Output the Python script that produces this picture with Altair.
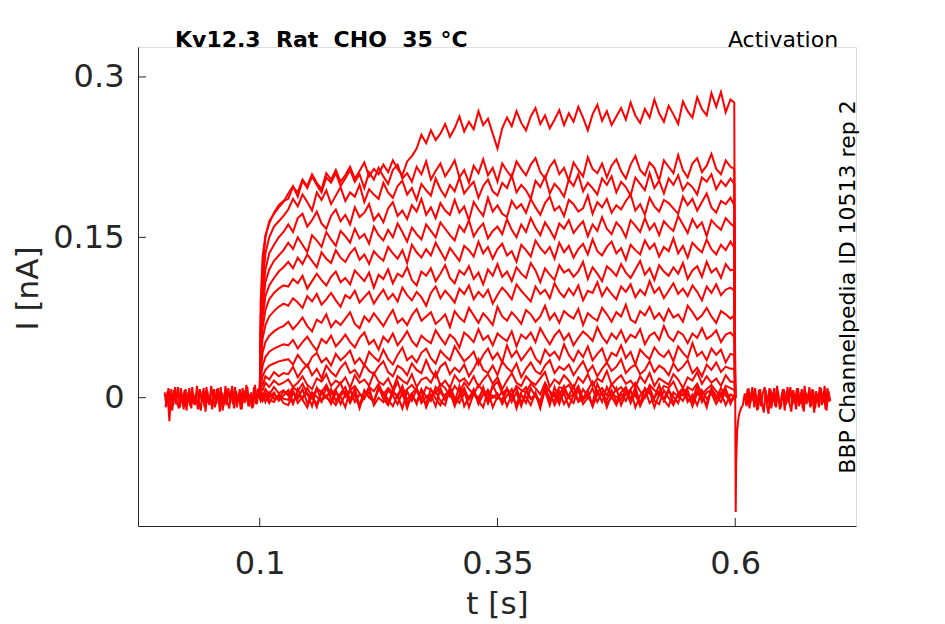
import altair as alt
import pandas as pd

# ---------------- data (currents in pA, times in ms) ----------------
# sampling times of the voltage-step sweeps
t_step_ms = [100, 101, 103, 106, 110, 115, 120, 125] + list(range(130, 600, 5)) + [599, 600]

tr01 = [0, 90, 132, 152, 163, 173, 180, 184,
        186, 197, 192, 204, 198, 209, 201, 195, 210, 204,
        213, 202, 208, 216, 205, 212, 220, 207, 214, 209,
        218, 211, 222, 214, 208, 221, 226, 233, 246, 238,
        250, 241, 247, 256, 244, 252, 263, 249, 258, 251,
        268, 255, 261, 247, 233, 252, 262, 254, 268, 257,
        250, 263, 271, 256, 264, 252, 260, 269, 255, 266,
        258, 272, 262, 250, 265, 274, 259, 268, 255, 263,
        271, 260, 276, 264, 257, 270, 262, 279, 266, 258,
        273, 265, 256, 277, 268, 262, 281, 270, 264, 285,
        272, 286, 267, 279,
        276, 0]
tr02 = [0, 75, 120, 150, 165, 172, 178, 183,
        191, 198, 188, 203, 196, 207, 199, 192, 206, 201,
        210, 198, 205, 213, 202, 209, 196, 211, 204, 215,
        207, 200, 213, 218, 205, 210, 202, 216, 209, 221,
        204, 212, 219, 207, 214, 222, 206, 213, 201, 217,
        210, 223, 208, 215, 202, 219, 212, 206, 221, 214,
        208, 218, 224, 211, 205, 216, 222, 209, 215, 203,
        220, 213, 207, 225, 214, 210, 219, 206, 217, 223,
        212, 205, 218, 226, 213, 208, 220, 215, 203, 222,
        216, 210, 227, 213, 206, 219, 224, 211, 217, 228,
        214, 209, 222, 216,
        214, 0]
tr03 = [0, 65, 105, 135, 150, 160, 165, 170,
        176, 186, 179, 190, 183, 175, 192, 185, 194, 181,
        189, 197, 184, 192, 188, 199, 183, 195, 190, 186,
        201, 192, 187, 198, 203, 190, 196, 185, 200, 194,
        189, 205, 195, 188, 199, 193, 206, 191, 197, 202,
        187, 198, 204, 193, 189, 201, 196, 208, 192, 199,
        194, 186, 203, 197, 207, 191, 200, 195, 188, 204,
        198, 209, 193, 201, 196, 190, 205, 199, 207, 192,
        202, 197, 189, 206, 200, 194, 210, 196, 203, 191,
        205, 199, 208, 194, 201, 197, 190, 206, 202, 209,
        195, 203, 198, 205,
        200, 0]
tr04 = [0, 60, 95, 120, 135, 143, 150, 155,
        162, 155, 168, 172, 160, 166, 174, 163, 158, 170,
        176, 165, 171, 162, 178, 169, 173, 181, 166, 172,
        164, 177, 183, 170, 175, 167, 180, 174, 186, 171,
        178, 168, 182, 175, 171, 185, 173, 179, 166, 183,
        176, 170, 187, 174, 180, 172, 169, 184, 177, 181,
        173, 186, 178, 171, 182, 188, 175, 179, 170, 185,
        181, 174, 177, 189, 172, 183, 178, 186, 173, 180,
        176, 184, 190, 175, 181, 171, 187, 179, 174, 185,
        182, 177, 172, 188, 180, 186, 175, 183, 191, 178,
        173, 184, 181, 187,
        180, 0]
tr05 = [0, 52, 85, 108, 120, 128, 133, 138,
        145, 139, 150, 143, 136, 152, 147, 141, 155, 148,
        142, 156, 151, 145, 158, 149, 153, 144, 160, 152,
        147, 157, 150, 163, 155, 146, 159, 153, 148, 162,
        156, 150, 164, 158, 152, 147, 161, 155, 166, 151,
        158, 163, 149, 156, 160, 153, 167, 157, 150, 162,
        155, 168, 159, 152, 164, 157, 149, 163, 158, 166,
        154, 160, 165, 151, 162, 156, 169, 158, 153, 164,
        159, 150, 166, 161, 155, 168, 157, 163, 152, 165,
        160, 156, 170, 162, 154, 167, 159, 164, 151, 166,
        161, 157, 168, 163,
        160, 0]
tr06 = [0, 45, 75, 95, 105, 112, 118, 122,
        127, 121, 131, 125, 134, 128, 122, 136, 130, 126,
        138, 131, 127, 135, 140, 129, 134, 125, 137, 132,
        128, 141, 135, 130, 138, 126, 143, 136, 131, 139,
        133, 145, 137, 129, 140, 134, 128, 142, 138, 132,
        146, 135, 141, 130, 139, 144, 133, 137, 127, 143,
        138, 132, 147, 140, 135, 141, 130, 145, 136, 142,
        131, 139, 144, 134, 148, 137, 133, 141, 146, 135,
        140, 129, 143, 138, 134, 147, 139, 144, 132, 141,
        137, 149, 135, 142, 131, 145, 140, 136, 148, 139,
        134, 143, 138, 146,
        140, 0]
tr07 = [0, 40, 65, 82, 92, 98, 102, 105,
        104, 111, 107, 114, 102, 109, 116, 110, 105, 113,
        118, 108, 112, 106, 119, 114, 109, 117, 103, 115,
        111, 120, 107, 116, 113, 122, 110, 105, 118, 114,
        121, 109, 116, 124, 112, 107, 119, 115, 123, 111,
        117, 106, 120, 114, 125, 113, 118, 109, 122, 116,
        112, 126, 119, 108, 121, 115, 110, 124, 117, 120,
        113, 118, 127, 111, 122, 116, 109, 123, 119, 114,
        125, 117, 112, 120, 128, 115, 121, 110, 124, 118,
        114, 122, 116, 126, 111, 119, 123, 113, 127, 117,
        121, 112, 125, 119,
        120, 0]
tr08 = [0, 33, 55, 68, 76, 81, 85, 88,
        86, 93, 89, 84, 95, 90, 97, 87, 92, 98,
        91, 85, 96, 93, 100, 89, 94, 99, 88, 95,
        101, 92, 97, 90, 103, 96, 91, 99, 94, 86,
        98, 104, 93, 100, 95, 89, 102, 97, 105, 92,
        99, 94, 101, 88, 96, 103, 98, 92, 106, 100,
        95, 90, 104, 97, 101, 93, 107, 99, 94, 102,
        96, 105, 91, 100, 98, 108, 95, 103, 97, 92,
        104, 99, 106, 94, 101, 96, 109, 98, 103, 93,
        100, 107, 97, 102, 95, 105, 99, 91, 104, 98,
        106, 96, 101, 103,
        100, 0]
tr09 = [0, 25, 42, 52, 58, 62, 65, 67,
        71, 64, 69, 75, 67, 62, 73, 70, 78, 66,
        72, 68, 74, 80, 69, 65, 76, 71, 79, 73,
        67, 75, 82, 70, 74, 68, 77, 83, 72, 76,
        80, 69, 73, 78, 66, 81, 75, 71, 84, 77,
        70, 79, 74, 68, 85, 76, 72, 80, 75, 69,
        82, 78, 71, 76, 86, 73, 79, 70, 81, 77,
        74, 83, 68, 79, 75, 72, 84, 78, 71, 80,
        76, 87, 73, 70, 81, 77, 85, 74, 79, 72,
        83, 75, 78, 71, 86, 80, 73, 77, 84, 76,
        70, 81, 78, 74,
        77, 0]
tr10 = [0, 18, 30, 38, 43, 46, 48, 50,
        49, 54, 46, 52, 57, 50, 44, 55, 51, 58,
        48, 53, 59, 52, 47, 56, 61, 50, 54, 45,
        57, 52, 60, 49, 55, 62, 53, 48, 58, 54,
        51, 63, 56, 50, 59, 55, 47, 61, 57, 52,
        64, 54, 58, 49, 60, 56, 53, 62, 48, 59,
        55, 61, 52, 65, 57, 50, 58, 63, 54, 60,
        49, 56, 62, 58, 53, 66, 57, 51, 60, 55,
        63, 52, 59, 56, 64, 50, 58, 61, 54, 67,
        57, 53, 62, 59, 51, 60, 56, 65, 55, 58,
        63, 52, 59, 61,
        57, 0]
tr11 = [0, 12, 20, 26, 30, 32, 34, 35,
        36, 31, 40, 34, 29, 38, 42, 33, 37, 30,
        41, 35, 39, 44, 32, 37, 30, 43, 38, 34,
        45, 36, 31, 40, 47, 35, 39, 33, 42, 46,
        37, 32, 44, 39, 35, 48, 41, 34, 38, 43,
        31, 40, 46, 36, 42, 33, 49, 38, 44, 35,
        41, 47, 37, 32, 45, 39, 43, 36, 50, 40,
        34, 44, 38, 48, 35, 41, 46, 33, 42, 39,
        49, 37, 43, 31, 45, 40, 36, 47, 41, 38,
        44, 34, 48, 42, 37, 51, 39, 43, 35, 46,
        40, 45, 33, 41,
        40, 0]
tr12 = [0, 10, 12, 20, 17, 24, 20, 23,
        22, 29, 19, 26, 31, 21, 27, 18, 30, 24,
        20, 28, 33, 23, 26, 19, 31, 25, 22, 29,
        34, 24, 20, 30, 27, 21, 32, 26, 23, 35,
        25, 19, 29, 33, 22, 28, 24, 31, 20, 27,
        36, 26, 23, 30, 21, 34, 28, 24, 32, 19,
        27, 33, 25, 22, 30, 35, 23, 29, 26, 31,
        21, 28, 34, 24, 30, 20, 27, 33, 25, 29,
        36, 23, 28, 31, 22, 26, 34, 24, 30, 27,
        21, 32, 25, 29, 35, 23, 28, 20, 31, 26,
        33, 24, 29, 27,
        27, 0]
tr13 = [0, 9, 7, 14, 10, 16, 12, 14,
        17, 10, 14, 20, 12, 8, 18, 15, 22, 11,
        16, 13, 19, 9, 21, 14, 17, 11, 23, 15,
        12, 18, 8, 20, 16, 13, 22, 10, 17, 19,
        14, 24, 11, 16, 9, 21, 15, 18, 12, 20,
        10, 17, 22, 13, 19, 8, 16, 23, 14, 11,
        20, 15, 12, 18, 24, 10, 17, 13, 21, 16,
        9, 19, 14, 22, 11, 18, 15, 25, 12, 17,
        21, 13, 16, 10, 20, 14, 23, 11, 18, 15,
        12, 22, 17, 9, 19, 16, 24, 13, 20, 14,
        18, 11, 21, 15,
        15, 0]
tr14 = [0, 5, 1, 8, 3, 10, 4, 7,
        2, 10, 6, 13, 4, -1, 9, 5, 12, 3,
        8, 14, 1, 7, 11, 4, 0, 10, 6, 13,
        3, 9, 5, 15, 2, 8, 12, 6, -1, 10,
        7, 4, 13, 9, 1, 11, 5, 14, 8, 3,
        12, 6, 0, 10, 15, 4, 8, 2, 11, 7,
        5, 13, 9, 3, 14, 6, 1, 10, 8, 12,
        4, 11, -1, 7, 15, 5, 9, 2, 13, 6,
        10, 3, 8, 14, 6, 0, 12, 7, 4, 11,
        9, 15, 5, 2, 10, 7, 13, 3, 8, 12,
        6, 1, 11, 9,
        7, 0]
tr15 = [0, 4, -2, 3, 0, 5, -3, 2,
        7, -4, 3, -1, 9, 1, -6, 5, 0, 8,
        -3, 4, 10, -2, 2, -7, 6, 1, -4, 9,
        3, -5, 7, 0, 11, -2, 4, -6, 8, 1,
        -3, 10, 5, -1, 6, -8, 3, 9, -2, 4,
        0, 7, -5, 12, 2, -3, 8, 1, -6, 5,
        10, -1, 3, -4, 9, 6, -7, 2, 11, 0,
        4, -3, 8, 1, -5, 13, 3, -2, 7, -4,
        5, 10, -1, 2, -6, 9, 4, 0, 12, -3,
        6, 1, -5, 8, 3, -2, 11, -4, 5, 7,
        -1, 9, 2, -3,
        2, 0]
tr16 = [0, -2, 3, -4, 5, -1, 2, -5,
        -7, 4, -1, 8, -5, 2, -9, 6, 0, -3,
        7, -6, 3, -2, 9, -8, 1, 5, -4, 10,
        -1, -7, 4, 2, -10, 6, -3, 8, -5, 1,
        3, -8, 9, -2, 5, -6, 0, 7, -9, 4,
        -3, 10, -5, 2, -1, 6, -8, 3, 9, -4,
        1, -7, 5, -10, 8, 0, -3, 6, -6, 2,
        11, -4, -1, 7, -8, 3, 5, -5, 0, 9,
        -7, 4, -2, 10, -6, 1, 6, -9, 3, -1,
        8, -5, 2, -3, 7, -8, 4, 0, -6, 9,
        -2, 5, -7, 3,
        1, 0]
tr17 = [0, 4, -3, 2, -5, 3, -1, 6,
        3, -6, 8, -2, -9, 5, 1, -4, 10, -1,
        -7, 2, 6, -5, 4, -10, 7, 0, -3, 8,
        5, -2, -8, 3, 9, -6, 1, -4, 7, -9,
        2, 6, -3, -7, 10, 0, -5, 4, -1, 8,
        -6, 3, 7, -9, 1, -2, 9, -4, 5, -8,
        6, -1, 2, -7, 11, -3, 4, -6, 8, 0,
        -5, 9, -2, 3, -8, 6, -4, 10, 1, -7,
        4, -3, 7, -9, 2, 8, -5, 0, 6, -2,
        -8, 5, 1, 9, -4, 3, -7, 7, -1, 4,
        -6, 2, 8, -3,
        -1, 0]
tr18 = [0, -3, 1, 5, -2, -4, 3, -1,
        -2, 7, -5, 1, 4, -8, 9, -3, 2, -6,
        5, 1, -9, 8, -4, 3, -1, 10, -7, 0,
        -4, 7, 2, -6, 5, -10, 4, 9, -2, -5,
        8, -1, -7, 3, 6, -4, 11, -8, 1, 5,
        -3, -9, 7, 0, 4, -6, 2, 8, -10, 3,
        -5, 9, 1, -3, 6, -7, 10, -2, 4, -8,
        2, 7, -6, 0, 9, -4, 5, -9, 3, 1,
        -2, 8, -5, 6, -8, 2, 10, -3, -6, 7,
        0, -7, 4, 9, -1, -5, 6, 3, -9, 8,
        2, -4, 7, -6,
        2, 0]

# holding period before the step (0-100 ms), two overlapping sweeps
base_a_ms = list(range(0, 101, 2))
base_a = [5, -8, 9, -4, -12, 7, -6, 10, -9, 3,
          -11, 8, -5, 9, -10, 4, -7, 11, -3, -12,
          6, -9, 10, -5, 2, -11, 8, -6, 9, -13,
          5, -8, 11, -4, -10, 7, -6, 10, -9, 4,
          -11, 9, -5, 12, -8, 3, -10, 10, -6, 8, 0]
base_b_ms = list(range(1, 100, 2))
base_b = [-9, 6, -22, 8, -7, 10, -5, -10, 9, -3,
          7, -12, 5, -8, 10, -6, 3, -11, 8, -4,
          9, -13, 6, -7, 11, -2, -9, 8, -6, 10,
          -12, 4, -7, 9, -5, 11, -10, 6, -3, 8,
          -11, 7, -4, 10, -8, 5, -9, 12, -6, 9]

# after the step (600-700 ms) with the capacitive spike
tail_a_ms = [600, 600.5, 601, 602, 603, 604, 606, 608] + list(range(610, 701, 2))
tail_a = [0, -107, -60, -32, -22, -16, -10, -7,
          4, -8, 9, -5, 10, -9, 3, -11, 8, -4,
          -14, 7, -6, 9, -10, 5, -8, 11, -3, -9,
          8, -12, 6, -5, 10, -7, 2, -11, 9, -6,
          8, -13, 5, -4, 10, -8, 7, -10, 3, -9,
          9, -5, 11, -12, 6, -3]
tail_b_ms = list(range(611, 700, 2))
tail_b = [-6, 8, -10, 5, -3, 9, -12, 7, -8, 4,
          10, -6, -15, 8, -4, 9, -9, 6, -11, 3,
          8, -7, 10, -5, -13, 7, -2, 9, -8, 5,
          -10, 11, -6, 4, -9, 8, -14, 6, -3, 10,
          -7, 5, -11, 9, -4]

x_ticks = [0.1, 0.35, 0.6]
y_ticks = [0, 0.15, 0.3]

# ---------------- build long table ----------------
series = []
step_traces = [tr01, tr02, tr03, tr04, tr05, tr06, tr07, tr08, tr09,
               tr10, tr11, tr12, tr13, tr14, tr15, tr16, tr17, tr18]
for k, tr in enumerate(step_traces):
    assert len(tr) == len(t_step_ms), (k + 1, len(tr), len(t_step_ms))
    series.append((f"step{k+1:02d}", t_step_ms, tr))
for name, ts, vs in [("base_a", base_a_ms, base_a), ("base_b", base_b_ms, base_b),
                     ("tail_a", tail_a_ms, tail_a), ("tail_b", tail_b_ms, tail_b)]:
    assert len(ts) == len(vs), (name, len(ts), len(vs))
    series.append((name, ts, vs))

rows = []
for name, ts, vs in series:
    for i, (t, v) in enumerate(zip(ts, vs)):
        rows.append({"sweep": name, "idx": i, "time": t / 1000.0, "current": v / 1000.0})
df = pd.DataFrame(rows)

INK = "#262626"
FONT = "DejaVu Sans"
W, H = 718, 479

xscale = alt.Scale(domain=[-0.028, 0.727], nice=False, zero=False)
yscale = alt.Scale(domain=[-0.12, 0.328], nice=False, zero=False)

X = alt.X("time:Q", scale=xscale, title="t [s]",
          axis=alt.Axis(values=x_ticks, format=".2~f", ticks=False, tickSize=0,
                        labelPadding=47, labelBaseline="alphabetic",
                        labelFontSize=32, labelFont=FONT, labelColor=INK,
                        domainColor=INK, domainWidth=1, grid=False,
                        titleFontSize=31, titleFont=FONT, titleFontWeight="normal",
                        titleColor=INK, titleX=W / 2, titleY=87,
                        titleBaseline="alphabetic", titleAlign="center"))
Y = alt.Y("current:Q", scale=yscale, title="I [nA]",
          axis=alt.Axis(values=y_ticks, format=".2~f", ticks=False, tickSize=0,
                        labelPadding=14, labelFontSize=32, labelFont=FONT,
                        labelColor=INK, domainColor=INK, domainWidth=1, grid=False,
                        titleFontSize=31, titleFont=FONT, titleFontWeight="normal",
                        titleColor=INK, titleX=-101, titleY=241,
                        titleBaseline="alphabetic", titleAlign="center", titleAngle=270))

lines = alt.Chart(df).mark_line(color="#ff0000", strokeWidth=2).encode(
    x=X, y=Y, detail="sweep:N", order="idx:Q")

xt = alt.Chart(pd.DataFrame({"time": x_ticks})).mark_rule(color=INK, strokeWidth=1).encode(
    x=X, y=alt.value(H), y2=alt.value(H - 8))
yt = alt.Chart(pd.DataFrame({"current": y_ticks})).mark_rule(color=INK, strokeWidth=1).encode(
    y=Y, x=alt.value(0), x2=alt.value(8))

NB = "\u00a0"
title_df = pd.DataFrame({"label": [f"Kv12.3{NB}{NB}Rat{NB}{NB}CHO{NB}{NB}35{NB}°C"]})
title_txt = alt.Chart(title_df).mark_text(
    font=FONT, fontSize=22, fontWeight="bold", color="black",
    align="left", baseline="alphabetic").encode(
    x=alt.value(37), y=alt.value(-0.5), text="label:N")

prot_df = pd.DataFrame({"label": ["Activation"]})
prot_txt = alt.Chart(prot_df).mark_text(
    font=FONT, fontSize=22, color="black", align="center", baseline="alphabetic").encode(
    x=alt.value(645), y=alt.value(-0.5), text="label:N")

id_df = pd.DataFrame({"label": ["BBP Channelpedia ID 10513 rep 2"]})
id_txt = alt.Chart(id_df).mark_text(
    font=FONT, fontSize=22, color="black", align="center", baseline="alphabetic",
    angle=270).encode(
    x=alt.value(717), y=alt.value(240), text="label:N")

chart = alt.layer(lines, xt, yt, title_txt, prot_txt, id_txt).properties(
    width=W, height=H,
    padding={"left": 130, "top": 39, "right": 60, "bottom": 94},
    autosize=alt.AutoSizeParams(type="none"),
).configure_view(stroke=None).configure(font=FONT)

chart.save("out.html", embed_options={"renderer": "svg", "actions": False})
